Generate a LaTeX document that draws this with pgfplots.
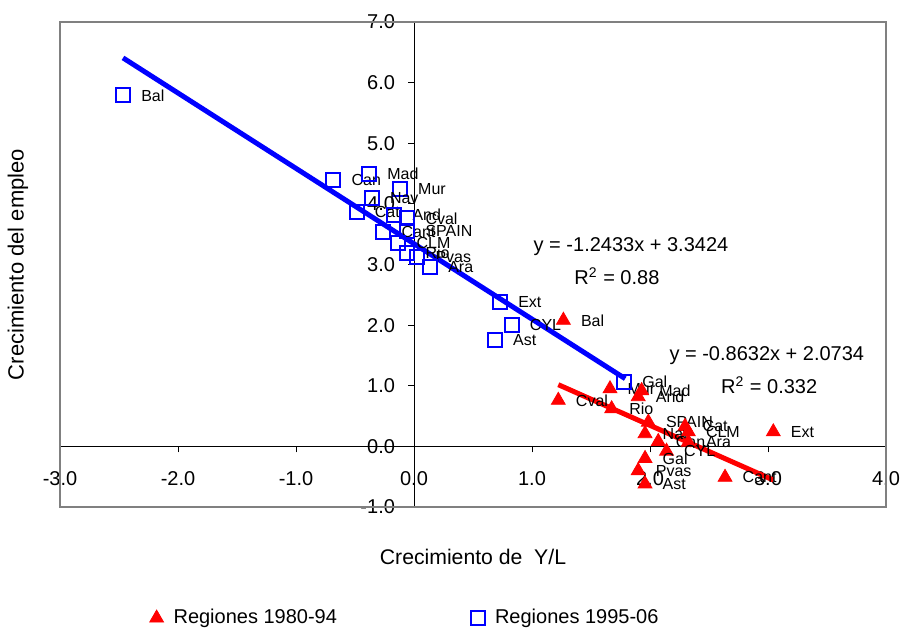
\documentclass[border=0pt]{standalone}
\usepackage{pgfplots}
\pgfplotsset{compat=1.18}
\usepackage{pgfplotstable}
\usepackage{fontspec}
\setmainfont{Liberation Sans}
\definecolor{xlred}{RGB}{255,0,0}
\definecolor{xlblue}{RGB}{0,0,255}
\definecolor{framegray}{RGB}{128,128,128}

\pgfplotstableread{
x y lab
1.266 2.08 Bal
1.223 0.76 Cval
1.661 0.95 Mur
1.929 0.92 Mad
1.900 0.82 And
1.675 0.62 Rio
1.986 0.40 SPAIN
2.297 0.33 Cat
1.958 0.21 Nav
2.325 0.24 CLM
2.070 0.08 Can
2.325 0.07 Ara
2.140 -0.08 CYL
1.958 -0.20 Gal
1.900 -0.40 Pvas
1.958 -0.62 Ast
2.636 -0.51 Cant
3.045 0.24 Ext
}\reddata

\pgfplotstableread{
x y lab
-2.466 5.79 Bal
-0.684 4.39 Can
-0.381 4.49 Mad
-0.119 4.24 Mur
-0.358 4.09 Nav
-0.486 3.87 Cat
-0.167 3.82 And
-0.057 3.76 Cval
-0.260 3.53 Cant
-0.133 3.36 CLM
-0.057 3.56 SPAIN
-0.057 3.19 Rio
0.028 3.12 Pvas
0.136 2.96 Ara
0.729 2.38 Ext
0.828 2.00 CYL
0.686 1.75 Ast
1.780 1.07 Gal
}\bluedata

\begin{document}
\begin{tikzpicture}
\path[use as bounding box] (-30pt,-60.5pt) rectangle (420pt,253.5pt);
\begin{axis}[
  at={(0,0)}, anchor=south west,
  scale only axis, width=413pt, height=242.5pt,
  xmin=-3, xmax=4, ymin=-1, ymax=7,
  axis lines=middle,
  axis line style={black, line width=0.5pt, -},
  every inner x axis line/.append style={-},
  every inner y axis line/.append style={-},
  xtick={-3,-2,-1,0,1,2,3,4},
  ytick={-1,0,1,2,3,4,5,6,7},
  tick align=outside, major tick length=3pt,
  tick style={black, line width=0.5pt},
  xticklabel={\pgfmathprintnumber[fixed,fixed zerofill,precision=1,assume math mode=true]{\tick}},
  yticklabel={\pgfmathprintnumber[fixed,fixed zerofill,precision=1,assume math mode=true]{\tick}},
  xticklabel style={font=\fontsize{10}{12}\selectfont, yshift=-6pt},
  yticklabel style={font=\fontsize{10}{12}\selectfont, xshift=-3pt},
  xlabel={Crecimiento de\ \ Y/L},
  ylabel={Crecimiento del empleo},
  xlabel style={at={(rel axis cs:0.5,0)}, anchor=center, yshift=-25pt, font=\fontsize{10.6}{12.7}\selectfont},
  ylabel style={at={(rel axis cs:0,0.5)}, xshift=-21pt, rotate=90, anchor=center, font=\fontsize{11}{13.2}\selectfont},
  legend columns=2,
  legend style={at={(axis description cs:0.419,-0.229)}, anchor=center, draw=none, fill=none,
    font=\fontsize{10}{12}\selectfont,
    /tikz/every odd column/.append style={column sep=3pt},
    /tikz/every even column/.append style={column sep=65pt}},
  clip=false,
]
\draw[framegray, line width=1pt] (rel axis cs:0,0) rectangle (rel axis cs:1,1);

\addplot[only marks, mark=triangle*, mark size=4pt, color=xlred,
  mark options={fill=xlred, draw=xlred},
  point meta=explicit symbolic, nodes near coords,
  nodes near coords style={anchor=west, xshift=5.3pt, font=\fontsize{8}{9.6}\selectfont, text=black}]
  table[x=x, y=y, meta=lab]{\reddata};
\addlegendentry{Regiones 1980-94}

\addplot[only marks, mark=square, mark size=3.5pt, color=xlblue,
  mark options={draw=xlblue, line width=1pt},
  point meta=explicit symbolic, nodes near coords,
  nodes near coords style={anchor=west, xshift=5.3pt, font=\fontsize{8}{9.6}\selectfont, text=black}]
  table[x=x, y=y, meta=lab]{\bluedata};
\addlegendentry{Regiones 1995-06}

\addplot[forget plot, xlblue, line width=2.5pt] coordinates {(-2.466,6.4084) (1.79,1.1169)};
\addplot[forget plot, xlred, line width=2.5pt] coordinates {(1.223,1.0177) (3.045,-0.5551)};

\node[font=\fontsize{10}{12}\selectfont, anchor=north, yshift=-9pt] at (axis cs:0,0) {0.0};
\node[font=\fontsize{10}{12}\selectfont, anchor=east, xshift=-6pt] at (axis cs:0,0) {0.0};

\node[font=\fontsize{10}{12}\selectfont] at (axis cs:1.839,3.30) {y = -1.2433x + 3.3424};
\node[font=\fontsize{10}{12}\selectfont] at (axis cs:1.72,2.805) {R\textsuperscript{2} = 0.88};
\node[font=\fontsize{10}{12}\selectfont] at (axis cs:2.99,1.50) {y = -0.8632x + 2.0734};
\node[font=\fontsize{10}{12}\selectfont] at (axis cs:3.01,1.007) {R\textsuperscript{2} = 0.332};
\end{axis}
\end{tikzpicture}
\end{document}
